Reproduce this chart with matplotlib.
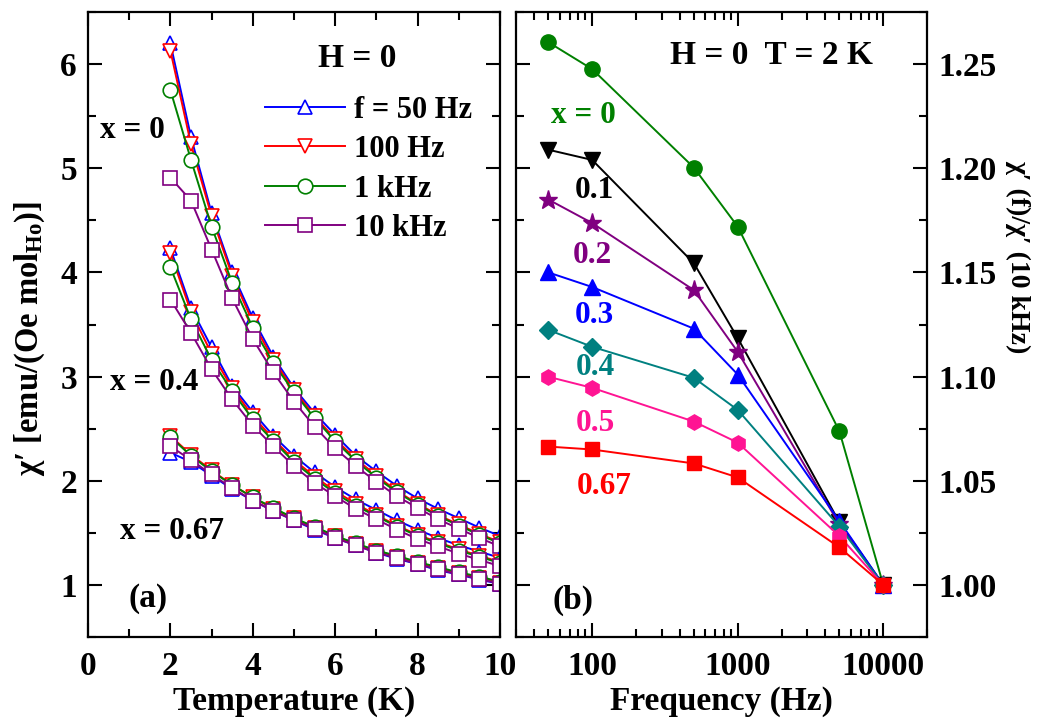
import matplotlib
matplotlib.use("Agg")
import matplotlib.pyplot as plt
from matplotlib.ticker import MultipleLocator, FixedLocator, NullFormatter, FixedFormatter
import numpy as np

plt.rcParams['font.family'] = ['Liberation Serif', 'DejaVu Serif']
plt.rcParams['font.weight'] = 'bold'
plt.rcParams['mathtext.fontset'] = 'custom'
plt.rcParams['mathtext.rm'] = 'Liberation Serif:bold'
plt.rcParams['mathtext.it'] = 'Liberation Serif:bold:italic'
plt.rcParams['mathtext.bf'] = 'Liberation Serif:bold'

# (a) chi' vs T for x = 0, 0.4, 0.67 at four frequencies
T = [2, 2.5, 3, 3.5, 4, 4.5, 5, 5.5, 6, 6.5, 7, 7.5, 8, 8.5, 9, 9.5, 10]

x0_50 = [6.20, 5.30, 4.57, 4.00, 3.56, 3.19, 2.89, 2.65, 2.44, 2.24, 2.09, 1.95, 1.83, 1.73, 1.64, 1.55, 1.47]
x0_100 = [6.13, 5.23, 4.54, 3.97, 3.52, 3.16, 2.87, 2.62, 2.40, 2.21, 2.05, 1.90, 1.78, 1.67, 1.58, 1.49, 1.41]
x0_1k = [5.75, 5.08, 4.44, 3.90, 3.47, 3.13, 2.85, 2.60, 2.38, 2.19, 2.03, 1.89, 1.77, 1.66, 1.57, 1.48, 1.40]
x0_10k = [4.91, 4.69, 4.22, 3.75, 3.36, 3.04, 2.76, 2.52, 2.31, 2.14, 1.99, 1.85, 1.74, 1.63, 1.54, 1.45, 1.37]

x04_50 = [4.23, 3.66, 3.28, 2.91, 2.66, 2.43, 2.24, 2.08, 1.94, 1.82, 1.72, 1.62, 1.53, 1.45, 1.38, 1.32, 1.26]
x04_100 = [4.19, 3.62, 3.22, 2.89, 2.62, 2.40, 2.20, 2.04, 1.90, 1.78, 1.67, 1.57, 1.48, 1.41, 1.34, 1.28, 1.22]
x04_1k = [4.05, 3.55, 3.16, 2.86, 2.59, 2.38, 2.18, 2.02, 1.88, 1.76, 1.66, 1.56, 1.47, 1.40, 1.33, 1.27, 1.21]
x04_10k = [3.74, 3.42, 3.07, 2.78, 2.53, 2.33, 2.14, 1.98, 1.85, 1.73, 1.63, 1.53, 1.44, 1.37, 1.30, 1.24, 1.18]

x067_50 = [2.27, 2.18, 2.05, 1.92, 1.81, 1.71, 1.62, 1.53, 1.45, 1.38, 1.31, 1.25, 1.20, 1.14, 1.10, 1.05, 1.01]
x067_100 = [2.43, 2.25, 2.10, 1.96, 1.84, 1.73, 1.64, 1.55, 1.47, 1.39, 1.33, 1.27, 1.21, 1.16, 1.11, 1.07, 1.02]
x067_1k = [2.42, 2.24, 2.09, 1.96, 1.84, 1.74, 1.64, 1.56, 1.47, 1.40, 1.33, 1.28, 1.22, 1.17, 1.12, 1.08, 1.03]
x067_10k = [2.33, 2.20, 2.06, 1.93, 1.81, 1.71, 1.62, 1.54, 1.45, 1.38, 1.31, 1.26, 1.20, 1.15, 1.10, 1.06, 1.01]

freq_labels = ["f = 50 Hz", "100 Hz", "1 kHz", "10 kHz"]
freq_colors = ["#0000ff", "#ff0000", "#008000", "#800080"]
freq_markers = ["^", "v", "o", "s"]

# (b) chi'(f)/chi'(10 kHz) at T = 2 K
f = [50, 100, 500, 1000, 5000, 10000]
ratio = {
    "x = 0": [1.2605, 1.2476, 1.2003, 1.1720, 1.0737, 1.0],
    "0.1": [1.2089, 1.2040, 1.1544, 1.1185, 1.0300, 1.0],
    "0.2": [1.1850, 1.1737, 1.1415, 1.1119, 1.0290, 1.0],
    "0.3": [1.1500, 1.1430, 1.1230, 1.1010, 1.0306, 1.0],
    "0.4": [1.1224, 1.1143, 1.0994, 1.0840, 1.0280, 1.0],
    "0.5": [1.0999, 1.0946, 1.0784, 1.0683, 1.0234, 1.0],
    "0.67": [1.0664, 1.0650, 1.0583, 1.0516, 1.0180, 1.0],
}
x_colors = ["#008000", "#000000", "#800080", "#0000ff", "#008080", "#ff1493", "#ff0000"]
x_markers = ["o", "v", "*", "^", "D", "h", "s"]
x_msize = [11, 11, 14, 11, 9, 11, 10]
label_pos = [(0.163, 0.835), (0.191, 0.715), (0.185, 0.611), (0.191, 0.515),
             (0.192, 0.432), (0.192, 0.342), (0.214, 0.240)]

fig = plt.figure(figsize=(10.44, 7.2), dpi=100)
ax1 = fig.add_axes([0.0843, 0.1153, 0.3946, 0.868])
ax2 = fig.add_axes([0.4943, 0.1153, 0.3937, 0.868])

groups = [[x0_50, x0_100, x0_1k, x0_10k],
          [x04_50, x04_100, x04_1k, x04_10k],
          [x067_50, x067_100, x067_1k, x067_10k]]
for g, series in enumerate(groups):
    for i, y in enumerate(series):
        ms = 9.5 if freq_markers[i] == 's' else 10.5
        ax1.plot(T, y, color=freq_colors[i], marker=freq_markers[i], ms=ms,
                 mfc='white', mec=freq_colors[i], mew=1.2, lw=1.4,
                 label=freq_labels[i] if g == 0 else None)

ax1.set_xlim(0, 10)
ax1.set_ylim(0.5, 6.5)
ax1.xaxis.set_major_locator(MultipleLocator(2))
ax1.xaxis.set_minor_locator(MultipleLocator(1))
ax1.yaxis.set_major_locator(MultipleLocator(1))
ax1.yaxis.set_minor_locator(MultipleLocator(0.5))
ax1.set_xlabel("Temperature (K)", fontsize=24, fontweight='bold', labelpad=3)
ax1.set_ylabel("χ′ [emu/(Oe mol$_{\\mathrm{Ho}}$)]", fontsize=23.5, fontweight='bold')
ax1.yaxis.set_label_coords(-0.10, 0.478)

ax1.legend(loc='upper left', bbox_to_anchor=(0.43, 0.866), frameon=False,
           fontsize=22, handlelength=2.6, handletextpad=0.3, labelspacing=0.34,
           borderpad=0, borderaxespad=0)
ax1.text(0.653, 0.925, "H = 0", transform=ax1.transAxes, ha='center', va='center', fontsize=24)
ax1.text(0.108, 0.811, "x = 0", transform=ax1.transAxes, ha='center', va='center', fontsize=22.5)
ax1.text(0.16, 0.408, "x = 0.4", transform=ax1.transAxes, ha='center', va='center', fontsize=22.5)
ax1.text(0.205, 0.168, "x = 0.67", transform=ax1.transAxes, ha='center', va='center', fontsize=22.5)
ax1.text(0.146, 0.062, "(a)", transform=ax1.transAxes, ha='center', va='center', fontsize=24)

for k, (name, vals) in enumerate(ratio.items()):
    ax2.plot(f, vals, color=x_colors[k], marker=x_markers[k], ms=x_msize[k],
             mfc=x_colors[k], mec=x_colors[k], lw=1.4)
    ax2.text(label_pos[k][0], label_pos[k][1], name, transform=ax2.transAxes,
             ha='center', va='center', fontsize=22.5, color=x_colors[k])

ax2.set_xscale('log')
ax2.set_xlim(30, 20000)
ax2.set_ylim(0.975, 1.275)
ax2.xaxis.set_major_locator(FixedLocator([100, 1000, 10000]))
ax2.xaxis.set_major_formatter(FixedFormatter(["100", "1000", "10000"]))
minors = [m * 10 ** d for d in range(1, 5) for m in range(2, 10)]
ax2.xaxis.set_minor_locator(FixedLocator(minors))
ax2.xaxis.set_minor_formatter(NullFormatter())
ax2.yaxis.set_major_locator(MultipleLocator(0.05))
ax2.yaxis.set_minor_locator(MultipleLocator(0.025))
ax2.yaxis.set_major_formatter(matplotlib.ticker.FormatStrFormatter('%.2f'))
ax2.yaxis.tick_right()
ax2.yaxis.set_label_position('right')
ax2.set_xlabel("Frequency (Hz)", fontsize=24, fontweight='bold', labelpad=3)
ax2.set_ylabel("χ′ (f)/χ′ (10 kHz)", fontsize=20, fontweight='bold', rotation=270)
ax2.yaxis.set_label_coords(1.252, 0.608)
ax2.text(0.622, 0.931, "H = 0  T = 2 K", transform=ax2.transAxes, ha='center', va='center', fontsize=24)
ax2.text(0.139, 0.059, "(b)", transform=ax2.transAxes, ha='center', va='center', fontsize=24)

for ax in (ax1, ax2):
    for s in ax.spines.values():
        s.set_linewidth(1.6)
    ax.tick_params(which='both', direction='in', top=True, bottom=True, left=True, right=True,
                   width=1.5, labelsize=24)
    ax.tick_params(which='major', length=10, pad=8)
    ax.tick_params(which='minor', length=5.5)
ax1.tick_params(axis='x', which='major', pad=10)
ax2.tick_params(axis='x', which='major', pad=10)
ax2.tick_params(axis='y', which='both', labelleft=False, labelright=True)

fig.savefig("out.png", dpi=100)
